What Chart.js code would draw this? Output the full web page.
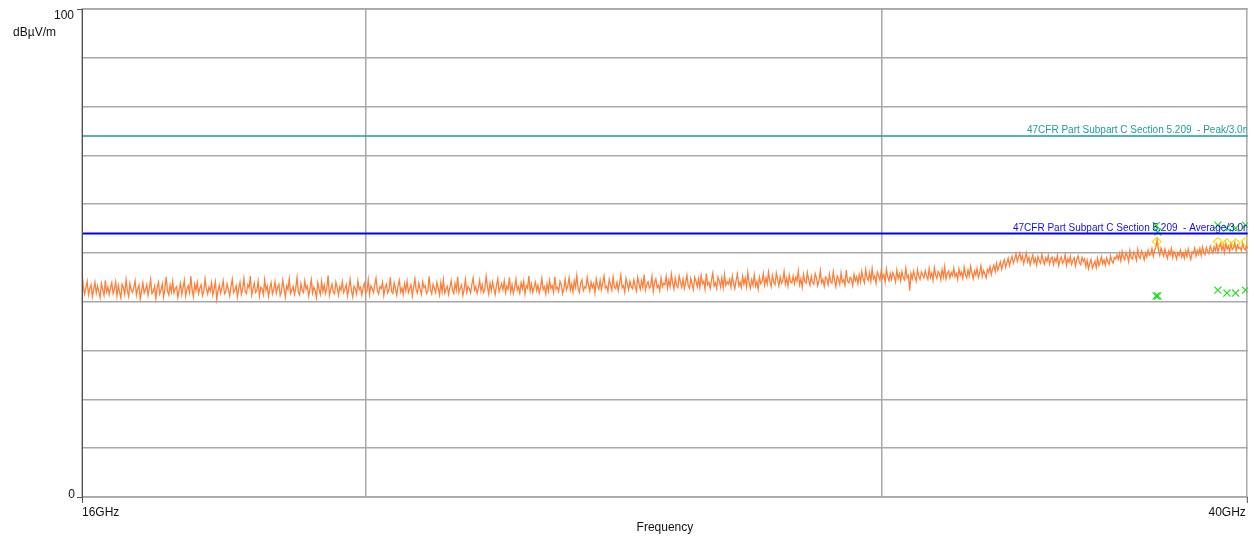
<!DOCTYPE html>
<html>
<head>
<meta charset="utf-8">
<script src="https://cdn.jsdelivr.net/npm/chart.js@4/dist/chart.umd.min.js"></script>
<style>
  html, body { margin: 0; padding: 0; background: #fff; }
  #wrap { width: 1254px; height: 536px; }
</style>
</head>
<body>
<div id="wrap"><canvas id="emiChart" width="1254" height="536"></canvas></div>
<script>
// 扫描设置 (GHz), 对数间隔
const sweepStartGHz = 16;
const sweepStopGHz = 40;

// 实测曲线 dBµV/m
const traceDb = [
  46.0, 43.1, 41.6, 42.9, 44.2, 41.4, 42.7, 43.5, 41.0, 42.4, 44.0, 41.8, 43.2, 42.1, 40.9, 43.7, 42.5, 41.3, 44.4, 42.0, 43.0, 41.5, 42.8, 43.9, 41.7,
  42.6, 44.1, 41.2, 43.3, 42.0, 40.8, 43.6, 42.9, 41.5, 44.5, 42.3, 41.1, 43.8, 42.4, 41.9, 43.0, 44.3, 41.4, 42.7, 43.4, 40.6, 42.2, 43.9, 41.8, 42.5,
  43.5, 41.3, 42.8, 44.6, 41.7, 42.1, 43.2, 40.7, 42.9, 44.0, 41.6, 42.4, 43.7, 41.0, 42.6, 45.1, 42.2, 41.4, 43.4, 42.0, 44.2, 41.8, 42.7, 43.1, 40.9,
  42.4, 43.8, 41.5, 42.9, 44.4, 41.2, 42.6, 43.3, 41.9, 45.2, 42.5, 41.1, 43.6, 42.3, 44.0, 41.7, 42.8, 43.5, 41.3, 42.1, 44.7, 42.6, 41.6, 43.0, 42.2,
  43.9, 41.4, 42.7, 44.1, 40.5, 42.3, 43.4, 41.8, 42.9, 44.3, 41.6, 42.0, 43.7, 42.5, 41.2, 43.1, 44.6, 41.9, 42.4, 43.3, 41.0, 42.8, 44.0, 41.5, 42.6,
  44.8, 42.1, 41.7, 43.5, 42.9, 45.3, 41.4, 42.6, 43.8, 41.9, 42.3, 44.2, 41.2, 43.0, 42.7, 41.5, 44.5, 42.4, 43.2, 41.1, 42.8, 43.9, 41.6, 42.5, 44.1,
  41.8, 42.9, 43.6, 41.3, 42.2, 44.4, 42.7, 41.0, 43.3, 42.5, 44.7, 41.7, 42.4, 43.1, 41.5, 42.8, 45.0, 42.0, 41.4, 43.7, 42.3, 41.9, 44.3, 42.6, 43.2,
  41.2, 42.7, 44.5, 41.8, 43.0, 42.3, 40.9, 43.9, 42.6, 41.5, 44.2, 42.1, 43.4, 41.7, 42.8, 45.4, 41.3, 42.5, 43.6, 42.0, 41.6, 44.0, 42.9, 41.4, 43.1,
  42.4, 44.1, 41.9, 42.6, 43.5, 41.2, 42.8, 44.6, 42.3, 41.0, 43.2, 42.7, 41.6, 44.3, 42.5, 43.0, 41.4, 42.9, 43.8, 41.8, 42.2, 44.5, 41.5, 43.3, 42.7,
  41.9, 43.4, 44.8, 42.2, 41.6, 43.1, 42.7, 44.0, 41.3, 42.9, 43.6, 41.8, 42.5, 45.0, 42.1, 41.7, 43.9, 42.6, 41.4, 43.3, 44.4, 42.0, 42.8, 41.5, 43.7,
  42.3, 44.2, 41.9, 42.7, 43.5, 41.2, 43.0, 44.7, 42.4, 41.8, 43.8, 42.6, 41.5, 44.1, 42.9, 43.3, 41.7, 42.2, 45.2, 42.5, 41.6, 43.6, 42.8, 41.9, 44.0,
  42.7, 41.4, 43.9, 42.1, 44.5, 41.8, 42.6, 43.2, 41.5, 42.9, 44.3, 42.3, 41.7, 43.7, 42.4, 45.1, 41.9, 42.8, 43.4, 41.3, 42.5, 44.6, 42.0, 43.1, 42.7,
  41.8, 43.6, 44.9, 42.4, 43.1, 41.7, 42.8, 44.4, 42.2, 43.5, 41.9, 42.6, 45.2, 43.0, 41.6, 43.8, 42.3, 44.1, 42.7, 41.5, 43.4, 44.7, 42.1, 42.9, 43.7,
  42.5, 44.3, 41.9, 43.2, 42.6, 45.0, 42.0, 43.5, 41.7, 42.9, 44.6, 42.4, 43.1, 41.8, 43.9, 42.7, 44.2, 41.6, 43.3, 42.8, 45.3, 42.2, 43.6, 41.9, 43.0,
  44.0, 42.3, 43.4, 41.8, 42.9, 44.8, 42.5, 43.1, 41.6, 43.7, 42.2, 44.4, 42.8, 43.3, 41.9, 45.1, 42.6, 43.0, 42.1, 44.2, 43.5, 41.7, 42.7, 44.6, 42.4,
  43.2, 44.9, 42.4, 43.6, 42.0, 44.3, 43.0, 45.4, 42.7, 41.9, 43.8, 44.5, 42.3, 43.1, 42.8, 45.0, 43.4, 42.2, 44.1, 42.9, 43.7, 41.8, 44.7, 43.3, 42.6,
  44.4, 42.5, 43.9, 45.3, 42.8, 43.2, 42.1, 44.6, 43.5, 42.4, 45.1, 43.0, 42.7, 44.0, 42.3, 43.8, 45.5, 42.9, 43.3, 42.0, 44.8, 43.6, 42.5, 44.2, 43.1,
  42.7, 44.5, 43.2, 42.2, 45.0, 43.7, 42.6, 44.3, 43.0, 45.6, 42.4, 43.5, 44.1, 42.8, 43.3, 45.2, 42.1, 43.9, 44.7, 42.9, 43.4, 42.3, 44.9, 43.1, 43.8,
  43.5, 45.2, 42.8, 44.4, 43.1, 45.7, 43.8, 42.6, 44.9, 43.4, 42.9, 45.3, 44.1, 43.0, 44.6, 42.7, 43.9, 45.5, 43.3, 42.8, 44.8, 43.6, 42.5, 45.0, 44.2,
  43.1, 44.7, 42.9, 45.4, 43.7, 44.2, 42.6, 45.8, 43.5, 44.0, 42.8, 44.5, 45.9, 43.2, 43.9, 42.7, 45.1, 44.3, 43.0, 44.9, 42.9, 45.6, 43.4, 44.1, 43.6,
  44.6, 43.0, 45.3, 43.8, 42.7, 44.4, 45.7, 43.3, 44.0, 42.9, 45.2, 43.6, 44.8, 43.1, 46.0, 43.9, 42.8, 44.5, 43.4, 45.5, 43.2, 44.1, 42.6, 45.0, 43.7,
  44.2, 45.8, 43.4, 44.9, 43.7, 46.1, 44.3, 43.1, 45.4, 44.0, 43.5, 45.9, 44.6, 43.3, 45.1, 43.8, 44.4, 46.2, 43.6, 44.8, 43.2, 45.5, 44.1, 43.9, 45.3,
  43.7, 45.0, 44.3, 46.3, 43.5, 44.7, 43.0, 45.6, 44.2, 43.8, 46.0, 44.5, 43.4, 45.2, 44.0, 43.6, 45.8, 44.9, 43.3, 44.4, 46.4, 43.9, 44.6, 43.2, 45.1,
  44.8, 43.5, 45.7, 44.1, 43.8, 46.2, 44.4, 43.1, 45.3, 44.7, 43.6, 45.9, 44.0, 44.5, 43.4, 46.5, 44.2, 43.9, 45.0, 44.6, 43.3, 45.6, 44.3, 45.1, 43.7,
  45.5, 44.1, 46.3, 44.8, 43.9, 46.6, 45.0, 44.4, 45.9, 44.2, 46.8, 44.7, 45.3, 43.8, 46.1, 45.4, 44.5, 46.4, 44.9, 45.6, 44.0, 46.7, 45.1, 44.3, 45.8,
  44.6, 46.0, 45.2, 44.1, 46.5, 44.8, 45.7, 44.3, 46.2, 45.0, 44.5, 46.9, 44.9, 45.4, 42.3, 45.8, 44.7, 46.3, 45.1, 44.2, 46.6, 45.3, 44.6, 46.1, 45.5,
  44.9, 46.4, 45.3, 44.6, 46.8, 45.0, 45.9, 44.4, 47.0, 45.5, 44.8, 46.2, 45.7, 44.5, 46.6, 45.1, 47.2, 44.7, 45.8, 46.3, 44.9, 46.0, 45.4, 46.9, 45.2,
  45.8, 44.6, 46.7, 45.4, 46.1, 44.8, 47.1, 45.6, 44.9, 46.5, 45.3, 47.3, 45.9, 44.7, 46.3, 45.5, 46.8, 45.0, 46.0, 47.4, 45.2, 46.4, 45.7, 44.9, 46.6,
  46.0, 47.2, 45.6, 46.8, 47.5, 46.2, 47.9, 46.5, 47.3, 48.2, 46.7, 47.8, 48.6, 47.1, 48.0, 48.9, 47.4, 48.5, 49.3, 47.9, 48.7, 49.8, 48.3, 49.1, 50.0,
  48.6, 49.4, 47.8, 48.9, 50.0, 48.2, 49.1, 47.6, 48.7, 49.6, 48.0, 48.9, 47.5, 49.3, 48.4, 47.9, 49.7, 48.5, 47.7, 49.0, 48.3, 49.5, 47.8, 48.8, 49.2,
  47.6, 48.9, 48.2, 49.5, 47.4, 48.6, 49.2, 47.9, 48.4, 49.7, 47.5, 48.8, 48.1, 49.3, 47.7, 48.5, 49.0, 47.3, 48.7, 49.4, 48.0, 47.6, 49.1, 48.3, 48.8,
  47.2, 48.5, 46.8, 47.9, 48.7, 46.9, 47.6, 48.3, 47.0, 48.9, 47.4, 48.1, 49.2, 47.8, 48.6, 47.5, 49.0, 48.2, 47.7, 49.4, 48.4, 47.9, 49.1, 48.8, 49.6,
  48.7, 49.9, 48.4, 50.3, 49.1, 48.6, 50.1, 49.4, 48.2, 50.5, 49.0, 48.8, 50.2, 49.6, 48.5, 50.7, 49.3, 48.9, 50.4, 49.7, 48.6, 50.0, 49.2, 50.6, 49.5,
  49.8, 50.9, 49.3, 50.5, 51.2, 52.7, 50.6, 49.5, 51.0, 50.2, 49.4, 50.8, 49.7, 48.9, 50.4, 49.6, 50.9, 49.1, 50.3, 49.8, 48.8, 50.1, 49.5, 50.6, 49.2,
  50.0, 48.9, 50.4, 49.3, 50.8, 49.6, 48.7, 50.2, 49.9, 51.0, 49.4, 50.5, 49.8, 50.9, 49.5, 51.2, 50.1, 49.7, 51.1, 50.3, 49.9, 51.4, 50.6, 50.0, 51.3,
  50.5, 51.7, 50.2, 51.3, 51.9, 50.6, 51.5, 50.1, 52.0, 50.8, 51.4, 50.3, 51.8, 50.7, 51.1, 52.1, 50.4, 51.6, 50.9, 51.2, 50.5, 51.9, 51.0, 50.6, 51.5,
  51.0
];

// 限值线
const peakLimitDb = 74;
const avgLimitDb = 54;
const peakLimitLabel = '47CFR Part Subpart C Section 5.209  - Peak/3.0m';
const avgLimitLabel = '47CFR Part Subpart C Section 5.209  - Average/3.0m';

// 测量点
const markGHz = [37.22, 37.27, 39.07, 39.35, 39.62, 39.93];
const peakMarkDb = [55.6, 54.3, 55.7, 55.1, 55.1, 55.7];
const avgMarkDb = [41.2, 41.2, 42.4, 41.8, 41.8, 42.4];
const qpMarkGHz = [37.24, 39.07, 39.35, 39.62, 39.93];
const qpMarkDb = [52.3, 52.3, 52.0, 52.0, 52.3];

// 轴
const freqMinGHz = 16;
const freqMaxGHz = 40;
const freqGridGHz = [20, 30];
const xLabels = ['16GHz', '40GHz'];
const yLabels = ['0', '100'];
const yUnit = 'dBµV/m';
const xTitle = 'Frequency';

// 对数扫描的频率点
const nSteps = traceDb.length - 1;
const tracePoints = traceDb.map((v, i) => ({
    x: sweepStartGHz * Math.pow(sweepStopGHz / sweepStartGHz, i / nSteps),
    y: v
}));
const toPts = (xs, ys) => xs.map((x, i) => ({ x: x, y: ys[i] }));

const FONT = '"Liberation Sans", Arial, sans-serif';
const GRID = '#a8a8a8';

// 自定义文字和边框
const decorPlugin = {
    id: 'decor',
    beforeDatasetsDraw(chart) {
        const { ctx, chartArea: a } = chart;
        ctx.save();
        ctx.lineWidth = 1.5;
        ctx.strokeStyle = GRID;
        ctx.strokeRect(a.left, a.top, a.right - a.left - 1, a.bottom - a.top);
        ctx.restore();
    },
    afterDatasetsDraw(chart) {
        const { ctx, chartArea: a } = chart;
        const yScale = chart.scales.y;
        ctx.save();
        // 限值标签
        ctx.beginPath();
        ctx.rect(a.left, a.top, a.right - a.left - 1, a.bottom - a.top);
        ctx.clip();
        ctx.font = '10px ' + FONT;
        ctx.textBaseline = 'alphabetic';
        ctx.textAlign = 'left';
        ctx.fillStyle = '#1f9a9a';
        ctx.fillText(peakLimitLabel, 1027, yScale.getPixelForValue(peakLimitDb) - 2.5);
        ctx.fillStyle = '#1010e0';
        ctx.fillText(avgLimitLabel, 1013, yScale.getPixelForValue(avgLimitDb) - 2.5);
        ctx.restore();

        ctx.save();
        // 轴线和刻度
        ctx.strokeStyle = '#505050';
        ctx.lineWidth = 1;
        ctx.beginPath();
        ctx.moveTo(a.left + 0.5, a.top);
        ctx.lineTo(a.left + 0.5, a.bottom + 6);
        ctx.moveTo(a.left - 5, a.top + 0.5);
        ctx.lineTo(a.left, a.top + 0.5);
        ctx.moveTo(a.left - 5, a.bottom + 0.5);
        ctx.lineTo(a.left, a.bottom + 0.5);
        ctx.moveTo(a.right - 0.5, a.bottom);
        ctx.lineTo(a.right - 0.5, a.bottom + 6);
        ctx.stroke();

        ctx.fillStyle = '#111';
        ctx.font = '12px ' + FONT;
        ctx.textBaseline = 'middle';
        ctx.textAlign = 'right';
        ctx.fillText(yLabels[1], a.left - 8, a.top + 7);
        ctx.fillText(yUnit, a.left - 26, a.top + 24);
        ctx.fillText(yLabels[0], a.left - 7, a.bottom - 2);
        ctx.textAlign = 'left';
        ctx.fillText(xLabels[0], a.left, a.bottom + 16);
        ctx.textAlign = 'right';
        ctx.fillText(xLabels[1], a.right - 2, a.bottom + 16);
        ctx.textAlign = 'center';
        ctx.fillText(xTitle, (a.left + a.right) / 2, a.bottom + 31);
        ctx.restore();
    }
};

const ctx = document.getElementById('emiChart').getContext('2d');
const emiChart = new Chart(ctx, {
    type: 'line',
    data: {
        datasets: [
            {
                label: 'Peak limit',
                data: toPts([freqMinGHz, freqMaxGHz], [peakLimitDb, peakLimitDb]),
                borderColor: '#1f9a9a',
                borderWidth: 1.5,
                pointRadius: 0
            },
            {
                label: 'Average limit',
                data: toPts([freqMinGHz, freqMaxGHz], [avgLimitDb, avgLimitDb]),
                borderColor: '#0000ff',
                borderWidth: 1.8,
                pointRadius: 0
            },
            {
                label: 'Trace',
                data: tracePoints,
                borderColor: '#ff7f3a',
                borderWidth: 1.3,
                pointRadius: 0,
                tension: 0
            },
            {
                label: 'QP',
                data: toPts(qpMarkGHz, qpMarkDb),
                showLine: false,
                pointStyle: 'rectRot',
                pointRadius: 4.5,
                borderColor: '#f2e600',
                backgroundColor: 'rgba(0,0,0,0)',
                borderWidth: 1.2
            },
            {
                label: 'Peak marks',
                data: toPts(markGHz, peakMarkDb),
                showLine: false,
                pointStyle: 'crossRot',
                pointRadius: 5,
                borderColor: '#22dd22',
                borderWidth: 1.2
            },
            {
                label: 'Avg marks',
                data: toPts(markGHz, avgMarkDb),
                showLine: false,
                pointStyle: 'crossRot',
                pointRadius: 5,
                borderColor: '#22dd22',
                borderWidth: 1.2
            }
        ]
    },
    options: {
        responsive: false,
        animation: false,
        events: [],
        layout: { padding: { left: 82, right: 6, top: 9, bottom: 39 } },
        plugins: { legend: { display: false }, tooltip: { enabled: false } },
        scales: {
            x: {
                type: 'logarithmic',
                min: freqMinGHz,
                max: freqMaxGHz,
                afterBuildTicks: (axis) => { axis.ticks = freqGridGHz.map(v => ({ value: v })); },
                ticks: { display: false },
                grid: { color: GRID, lineWidth: 1.5, drawTicks: false },
                border: { display: false }
            },
            y: {
                min: 0,
                max: 100,
                ticks: { display: false, stepSize: 10 },
                grid: { color: GRID, lineWidth: 1.5, drawTicks: false },
                border: { display: false }
            }
        }
    },
    plugins: [decorPlugin]
});
</script>
</body>
</html>
